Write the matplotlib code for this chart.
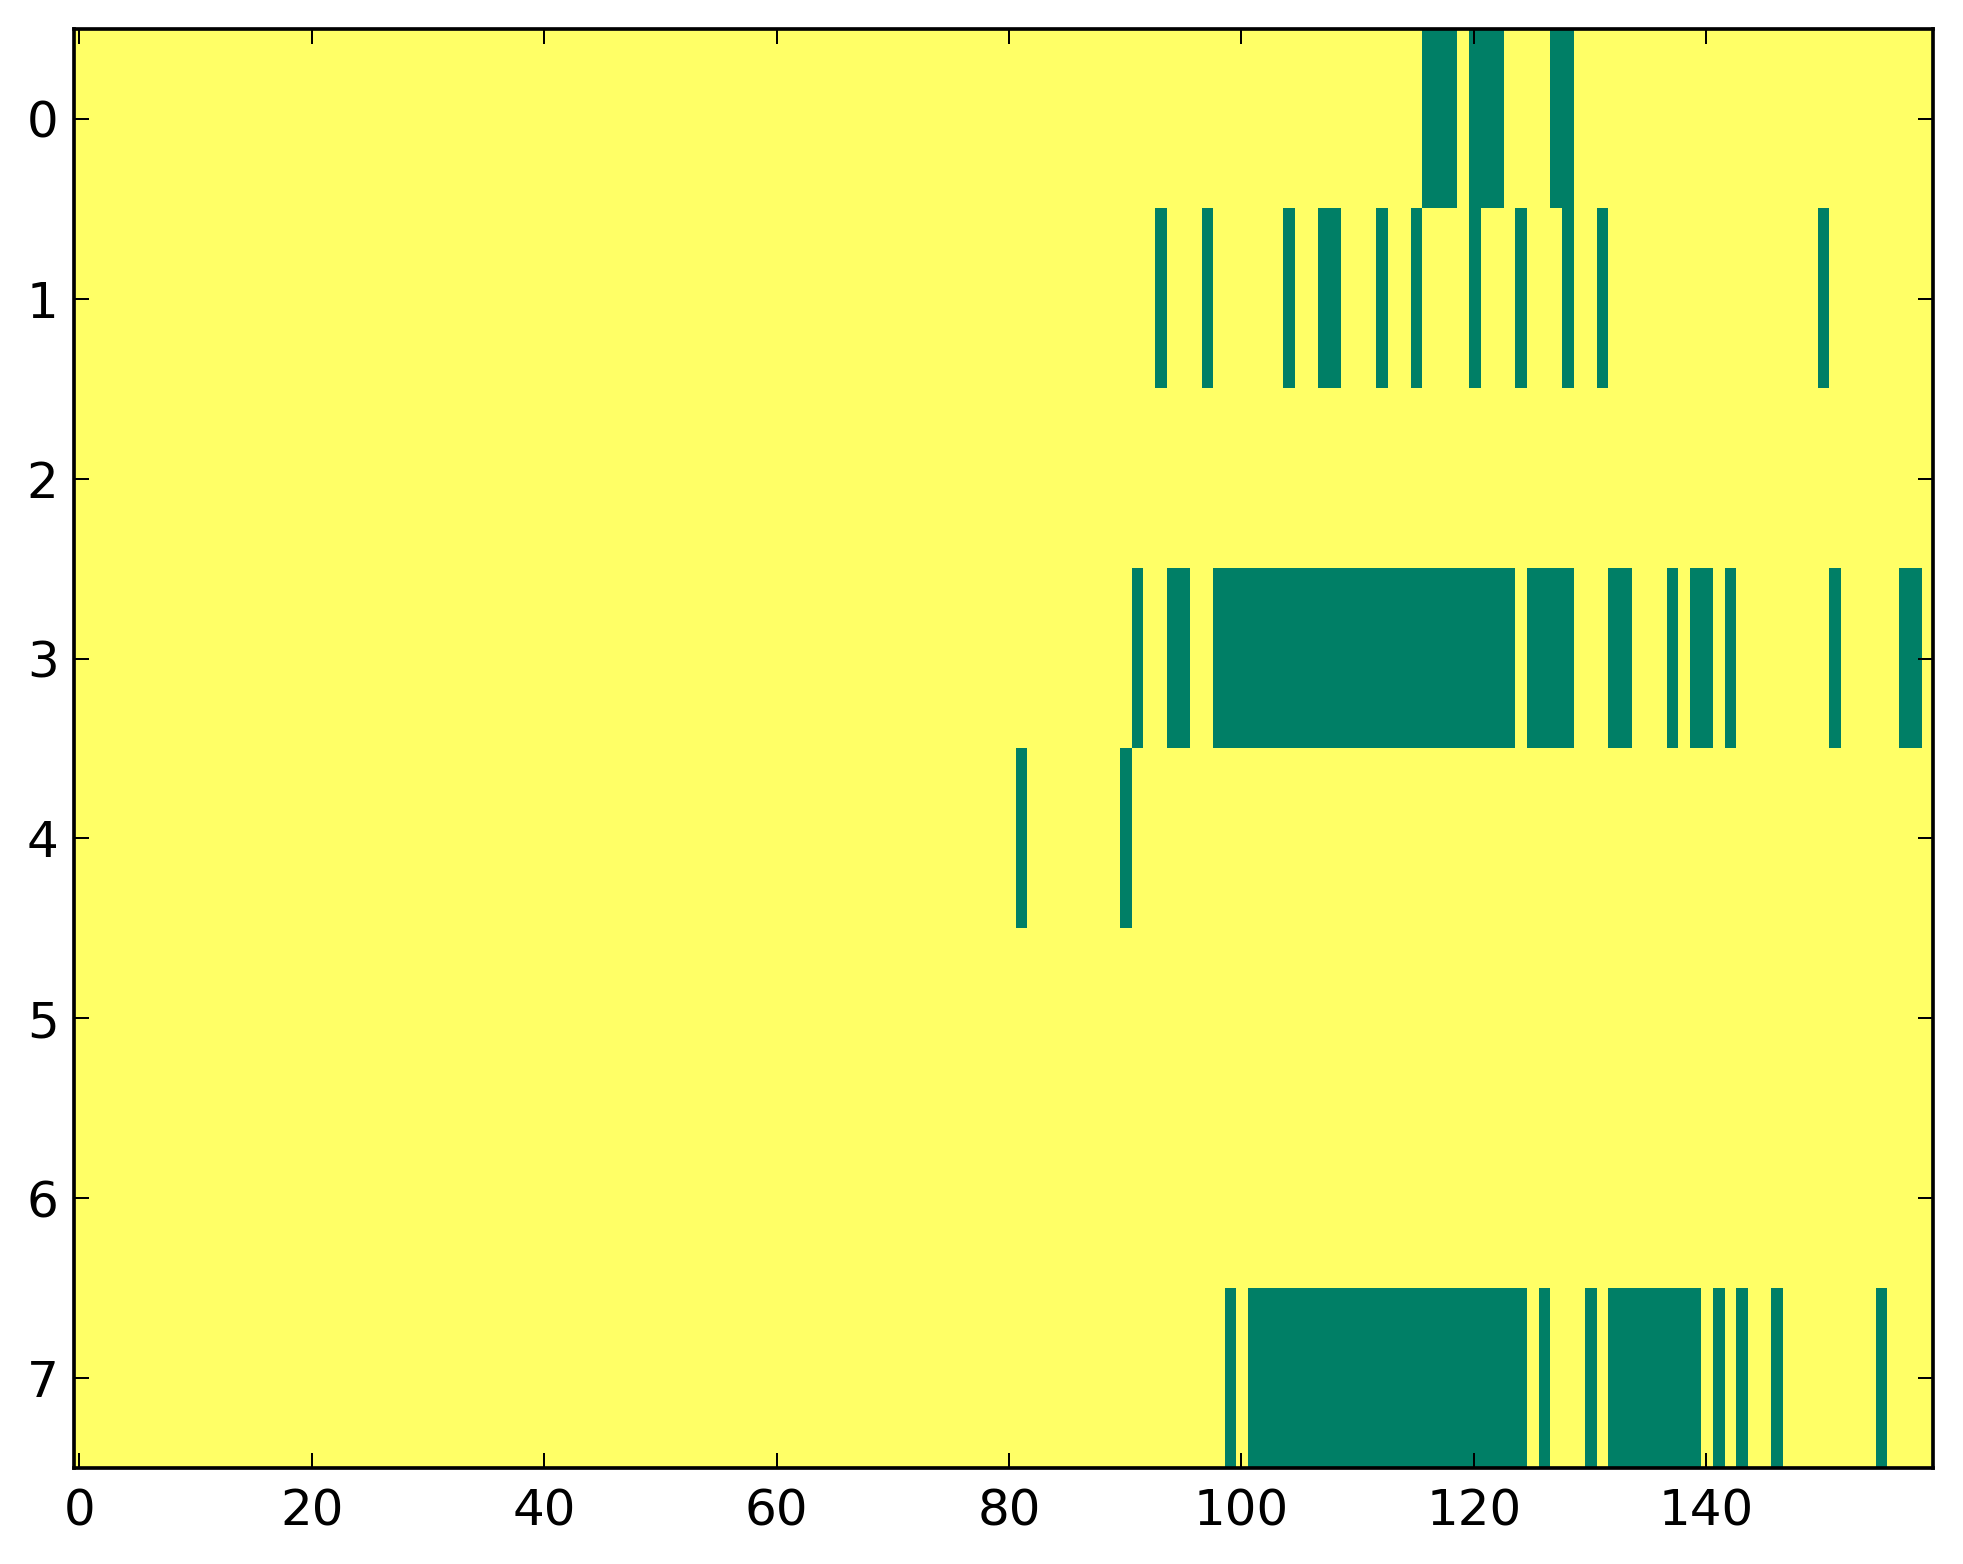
import matplotlib
matplotlib.use("Agg")
import matplotlib.pyplot as plt
import numpy as np

# grid size: 8 rows x 160 columns, value 1 everywhere except listed cells (0)
n_rows = 8
n_cols = 160

row0_zero = [116, 117, 118, 120, 121, 122, 127, 128]
row1_zero = [93, 97, 104, 107, 108, 112, 115, 120, 124, 128, 131, 150]
row2_zero = []
row3_zero = [91, 94, 95] + list(range(98, 124)) + [125, 126, 127, 128, 132, 133,
                                                   137, 139, 140, 142, 151, 157, 158]
row4_zero = [81, 90]
row5_zero = []
row6_zero = []
row7_zero = [99] + list(range(101, 125)) + [126, 130] + list(range(132, 140)) + [141, 143, 146, 155]

zero_cells = [row0_zero, row1_zero, row2_zero, row3_zero,
              row4_zero, row5_zero, row6_zero, row7_zero]

x_ticks = [0, 20, 40, 60, 80, 100, 120, 140]
y_ticks = list(range(n_rows))


def build_grid():
    grid = np.ones((n_rows, n_cols))
    for r, cols in enumerate(zero_cells):
        grid[r, cols] = 0
    return grid


def main():
    plt.rcParams["font.family"] = ["DejaVu Sans"]
    plt.rcParams["font.size"] = 15

    fig = plt.figure(figsize=(1963 / 240, 1564 / 240), dpi=240)
    ax = fig.add_axes([0.0375, 0.0614, 0.9471, 0.9201])

    ax.imshow(build_grid(), cmap="summer", vmin=0, vmax=1,
              aspect="auto", interpolation="nearest")

    ax.set_xticks(x_ticks)
    ax.set_yticks(y_ticks)
    ax.set_xlim(-0.5, n_cols - 0.5)
    ax.set_ylim(n_rows - 0.5, -0.5)

    # klasik görünüm: içe dönük tikler, dört kenarda
    ax.tick_params(direction="in", top=True, right=True, length=4.5, width=0.6,
                   labelsize=15)
    ax.tick_params(axis="x", pad=6)
    ax.tick_params(axis="y", pad=4.5)
    for s in ax.spines.values():
        s.set_linewidth(1.1)

    fig.savefig("out.png", dpi=240, facecolor="white")


if __name__ == "__main__":
    main()
